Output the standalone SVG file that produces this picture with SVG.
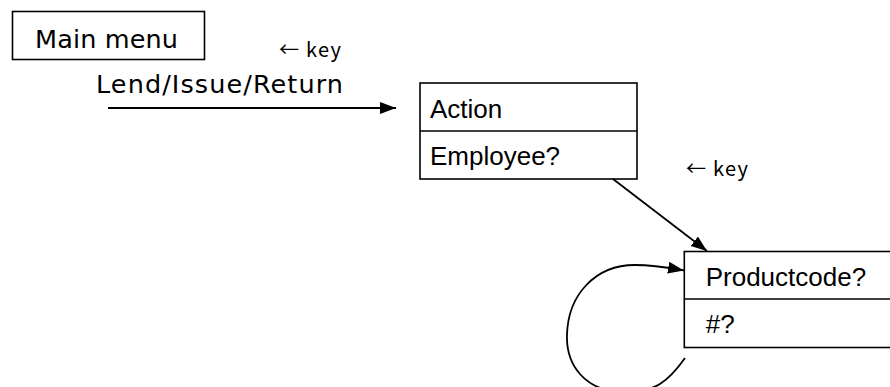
<svg xmlns="http://www.w3.org/2000/svg" width="890" height="387" viewBox="0 0 890 387">
<style>
.box{fill:#fff;stroke:#000;stroke-width:1.6}
.div{stroke:#000;stroke-width:1.6}
.vd{font-family:"DejaVu Sans",Verdana,sans-serif;fill:#000}
.key{font-family:"Noto Sans CJK KR","DejaVu Sans",sans-serif;font-size:20px;fill:#000}
.ar{font-family:"Liberation Sans",Arial,sans-serif;font-size:26px;fill:#000}
.con{fill:none;stroke:#000;stroke-width:1.8}
</style>
<defs>
<marker id="ah" markerUnits="userSpaceOnUse" markerWidth="17" markerHeight="13" refX="16" refY="6" orient="auto">
<path d="M0,0 L16,6 L0,12 z" fill="#000"/>
</marker>
</defs>
<rect width="890" height="387" fill="#fff"/>
<g id="main-menu">
<rect class="box" x="12.5" y="11.5" width="192" height="48"/>
<text class="vd" x="35" y="48.3" font-size="25.5" textLength="143" lengthAdjust="spacing">Main menu</text>
</g>
<g id="key1">
<text class="key" x="279" y="57" textLength="62" lengthAdjust="spacing">← key</text>
</g>
<g id="lend">
<text class="vd" x="96" y="93.3" font-size="25.5" textLength="247" lengthAdjust="spacing">Lend/Issue/Return</text>
</g>
<g id="action">
<rect class="box" x="420" y="83" width="217" height="96"/>
<line class="div" x1="420" y1="131" x2="637" y2="131"/>
<text class="ar" x="430" y="117.7">Action</text>
<text class="ar" x="430" y="165">Employee?</text>
</g>
<g id="key2">
<text class="key" x="686" y="175.7" textLength="62" lengthAdjust="spacing">← key</text>
</g>
<g id="product">
<rect class="box" x="684.3" y="251.5" width="230" height="96"/>
<line class="div" x1="684.3" y1="299" x2="900" y2="299"/>
<text class="ar" x="705.7" y="285.7">Productcode?</text>
<text class="ar" x="705.7" y="333">#?</text>
</g>
<g id="connectors">
<line class="con" x1="108" y1="108" x2="396" y2="108" marker-end="url(#ah)"/>
<line class="con" x1="613" y1="179" x2="707" y2="251" marker-end="url(#ah)"/>
<path class="con" d="M685,358 C668,382 655,392 625,392 C585,392 566,365 567,335 C568,295 595,265 635,265 C655,265 670,268 684,270.5" marker-end="url(#ah)"/>
</g>
</svg>
